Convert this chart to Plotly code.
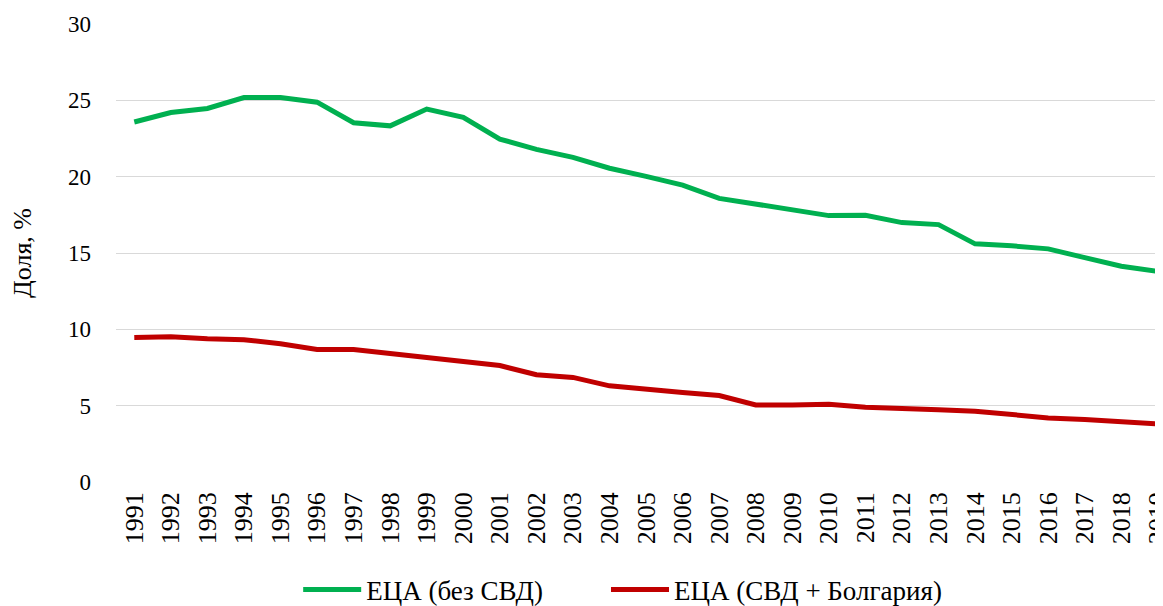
import plotly.graph_objects as go

years = list(range(1991, 2020))
eca_no_svd = [23.58, 24.2, 24.47, 25.18, 25.18, 24.88, 23.53, 23.33, 24.43, 23.88,
              22.46, 21.79, 21.26, 20.55, 20.02, 19.45, 18.58, 18.18, 17.83, 17.45,
              17.47, 16.99, 16.86, 15.6, 15.47, 15.27, 14.7, 14.13, 13.8]
eca_svd_bg = [9.47, 9.52, 9.39, 9.32, 9.06, 8.68, 8.68, 8.4, 8.15, 7.86,
              7.63, 7.03, 6.85, 6.3, 6.12, 5.86, 5.66, 5.05, 5.05, 5.1,
              4.9, 4.85, 4.74, 4.64, 4.44, 4.2, 4.1, 3.95, 3.8]
series_names = ["ЕЦА (без СВД)", "ЕЦА (СВД + Болгария)"]
y_ticks = [0, 5, 10, 15, 20, 25, 30]

font_family = "Liberation Serif, Times New Roman, serif"

fig = go.Figure()
fig.add_trace(go.Scatter(x=years, y=eca_no_svd, mode="lines", name=series_names[0],
                         line=dict(color="#00B050", width=5), legend="legend"))
fig.add_trace(go.Scatter(x=years, y=eca_svd_bg, mode="lines", name=series_names[1],
                         line=dict(color="#C00000", width=5), legend="legend2"))

legend_common = dict(orientation="h", yref="container", yanchor="middle", y=0.027,
                     xanchor="left",
                     font=dict(size=27, family=font_family), itemwidth=58,
                     bgcolor="rgba(0,0,0,0)")

fig.update_layout(
    width=1155, height=598,
    margin=dict(l=108, r=0, t=16, b=124, autoexpand=False),
    paper_bgcolor="white", plot_bgcolor="white",
    font=dict(family=font_family, size=23, color="black"),
    showlegend=True,
    legend=dict(x=0.174, **legend_common),
    legend2=dict(x=0.468, **legend_common),
    xaxis=dict(
        range=[1990.5, 2019.14],
        tickmode="array", tickvals=years, ticktext=[str(y) for y in years],
        tickangle=-90, showgrid=False, zeroline=False, showline=False,
        ticks="", tickfont=dict(size=26, family=font_family), ticklabelstandoff=4,
        ticklabeloverflow="allow",
    ),
    yaxis=dict(
        range=[0, 30], tickmode="array", tickvals=y_ticks,
        showgrid=True, gridcolor="#d9d9d9", gridwidth=1.3,
        zeroline=False, showline=False, ticks="",
        tickfont=dict(size=23, family=font_family), ticklabelstandoff=24,
        title=dict(text="Доля, %", font=dict(size=26, family=font_family), standoff=30),
    ),
)

fig.write_html("out.html")
